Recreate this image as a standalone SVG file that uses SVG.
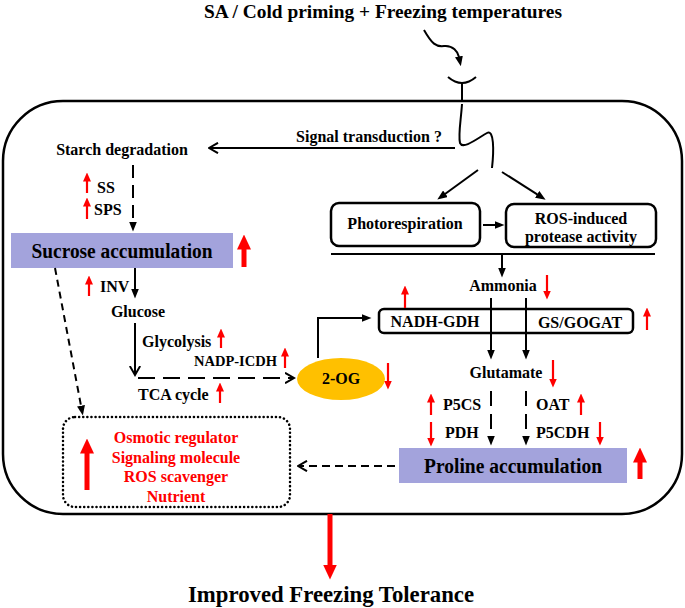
<svg xmlns="http://www.w3.org/2000/svg" width="685" height="608" viewBox="0 0 685 608">
<defs>
<style>
text{font-family:"Liberation Serif","Times New Roman",serif;font-weight:bold;fill:#000;}
.lb{font-size:16px;}
.mid{text-anchor:middle;}
.red{fill:#ff0000;}
.ln{stroke:#000;stroke-width:2;fill:none;}
.rs{stroke:#ff0000;stroke-width:2.2;fill:none;marker-end:url(#rs);}
.rb{stroke:#ff0000;stroke-width:5;fill:none;marker-end:url(#rb);}
.box{fill:#fff;stroke:#000;stroke-width:2.5;}
.acc{fill:#a3a3dc;}
</style>
<marker id="tri" viewBox="0 0 10 8" refX="0.5" refY="4" markerWidth="10" markerHeight="8" markerUnits="userSpaceOnUse" orient="auto"><path d="M0,0 L10,4 L0,8 z" fill="#000"/></marker>
<marker id="chev" viewBox="0 0 11 12" refX="9.5" refY="6" markerWidth="11" markerHeight="12" markerUnits="userSpaceOnUse" orient="auto"><path d="M0.5,0.8 L9.5,6 L0.5,11.2" fill="none" stroke="#000" stroke-width="2"/></marker>
<marker id="rs" viewBox="0 0 9 8" refX="0.5" refY="4" markerWidth="9" markerHeight="8" markerUnits="userSpaceOnUse" orient="auto"><path d="M0,0 L9,4 L0,8 z" fill="#ff0000"/></marker>
<marker id="rb" viewBox="0 0 15 14" refX="0.5" refY="7" markerWidth="15" markerHeight="14" markerUnits="userSpaceOnUse" orient="auto"><path d="M0,0 L15,7 L0,14 z" fill="#ff0000"/></marker>
</defs>

<rect width="685" height="608" fill="#fff"/>

<g id="title"><text x="383" y="18" class="mid" font-size="19" textLength="358" lengthAdjust="spacingAndGlyphs">SA / Cold priming + Freezing temperatures</text></g>

<g id="cell"><rect x="3" y="101" width="679" height="413" rx="60" fill="none" stroke="#000" stroke-width="2.5"/></g>

<g id="receptor">
<path d="M448,77 Q462,89 476,77" class="ln" stroke-width="2.5"/>
<path d="M462,83 V101" class="ln" stroke-width="2.2"/>
</g>

<g id="starch"><text x="122" y="155" class="lb mid">Starch degradation</text></g>
<g id="signal"><text x="369" y="142" class="lb mid">Signal transduction ?</text></g>
<g id="sucrose"><rect x="11" y="233" width="222" height="35" class="acc"/><text x="122" y="258" class="mid" font-size="20" textLength="181" lengthAdjust="spacingAndGlyphs">Sucrose accumulation</text></g>
<g id="glucose"><text x="138" y="317" class="lb mid">Glucose</text></g>
<g id="photorespiration"><rect x="331" y="203" width="149" height="43" rx="8" class="box"/><text x="405" y="229" class="lb mid">Photorespiration</text></g>
<g id="ros"><rect x="506" y="204" width="150" height="43" rx="8" class="box"/><text x="581" y="224" class="lb mid">ROS-induced</text><text x="581" y="242" class="lb mid">protease activity</text></g>
<g id="ammonia"><text x="503" y="291" class="lb mid">Ammonia</text></g>
<g id="enzymes"><rect x="379" y="309" width="254" height="24" rx="5" fill="none" stroke="#000" stroke-width="2.5"/><text x="435" y="327" class="lb mid">NADH-GDH</text><text x="580" y="328" class="lb mid">GS/GOGAT</text></g>
<g id="og"><ellipse cx="341" cy="379" rx="44" ry="21" fill="#ffc000"/><text x="341" y="384" class="lb mid">2-OG</text></g>
<g id="glutamate"><text x="506" y="378" class="lb mid">Glutamate</text></g>
<g id="proline"><rect x="399" y="448" width="228" height="35" class="acc"/><text x="513" y="473" class="mid" font-size="20" textLength="178" lengthAdjust="spacingAndGlyphs">Proline accumulation</text></g>
<g id="roles">
<rect x="63" y="417" width="227" height="90" rx="12" fill="none" stroke="#000" stroke-width="2.5" stroke-dasharray="0.1,4" stroke-linecap="round"/>
<text x="176" y="443" class="lb mid red">Osmotic regulator</text>
<text x="176" y="463" class="lb mid red">Signaling molecule</text>
<text x="176" y="482" class="lb mid red">ROS scavenger</text>
<text x="176" y="502" class="lb mid red">Nutrient</text>
</g>
<g id="result"><text x="331" y="602" class="mid" font-size="24" textLength="286" lengthAdjust="spacingAndGlyphs">Improved Freezing Tolerance</text></g>

<g id="labels">
<text x="97" y="193" class="lb">SS</text>
<text x="94" y="215" class="lb">SPS</text>
<text x="100" y="292" class="lb">INV</text>
<text x="142" y="347" class="lb">Glycolysis</text>
<text x="194" y="366" font-size="14.5">NADP-ICDH</text>
<text x="138" y="400" class="lb">TCA cycle</text>
<text x="443" y="410" class="lb">P5CS</text>
<text x="445" y="438" class="lb">PDH</text>
<text x="536" y="410" class="lb">OAT</text>
<text x="536" y="438" class="lb">P5CDH</text>
</g>

<g id="connectors">
<path d="M424,30 C432,44 436,47 444,46 C453,45 458,52 459,57" class="ln" marker-end="url(#tri)"/>
<path d="M462,104 C461,120 458,135 460,143 C463,150 478,138 487,133 C494,129 494,150 492,168" class="ln" stroke-width="2.2"/>
<path d="M455,148 H209" class="ln" stroke-width="2.2" marker-end="url(#chev)"/>
<path d="M478,170 L445,194" class="ln" stroke-width="2.2" marker-end="url(#tri)"/>
<path d="M502,172 L537.6,194.6" class="ln" stroke-width="2.2" marker-end="url(#tri)"/>
<path d="M133,165 V222" class="ln" stroke-dasharray="13,7" marker-end="url(#tri)"/>
<path d="M135,268 V289" class="ln" marker-end="url(#tri)"/>
<path d="M135,323 V375" class="ln" marker-end="url(#chev)"/>
<path d="M138,378 H294" class="ln" stroke-dasharray="17,8" marker-end="url(#chev)"/>
<path d="M318,358 V318 H362" class="ln" marker-end="url(#tri)"/>
<path d="M483,225 H495" class="ln" marker-end="url(#tri)"/>
<path d="M331,254 H655" class="ln" stroke-width="2.5"/>
<path d="M502,255 V268" class="ln" marker-end="url(#tri)"/>
<path d="M491,298 V350" class="ln" marker-end="url(#tri)"/>
<path d="M526,298 V350" class="ln" marker-end="url(#tri)"/>
<path d="M491,391 V436" class="ln" stroke-dasharray="15,8" marker-end="url(#tri)"/>
<path d="M526,391 V436" class="ln" stroke-dasharray="15,8" marker-end="url(#tri)"/>
<path d="M395,466 H298" class="ln" stroke-dasharray="8,5" marker-end="url(#chev)"/>
<path d="M55,268 L81.1,406.2" class="ln" stroke-dasharray="7,5" marker-end="url(#tri)"/>
</g>

<g id="regulation">
<path d="M87,193 V181" class="rs"/>
<path d="M87,219 V206" class="rs"/>
<path d="M89,296 V284" class="rs"/>
<path d="M221,348 V337" class="rs"/>
<path d="M285,368 V356" class="rs"/>
<path d="M220,403 V391" class="rs"/>
<path d="M405,308 V294" class="rs"/>
<path d="M647,330 V316" class="rs"/>
<path d="M431,415 V402" class="rs"/>
<path d="M581,415 V402" class="rs"/>
<path d="M547,275 V291" class="rs"/>
<path d="M388,363 V381" class="rs"/>
<path d="M553,360 V379" class="rs"/>
<path d="M431,422 V438" class="rs"/>
<path d="M600,422 V437" class="rs"/>
<path d="M244,267 V249" class="rb"/>
<path d="M640,479 V462" class="rb"/>
<path d="M87,490 V453" class="rb"/>
<path d="M330,514 V565" class="rb"/>
</g>
</svg>
